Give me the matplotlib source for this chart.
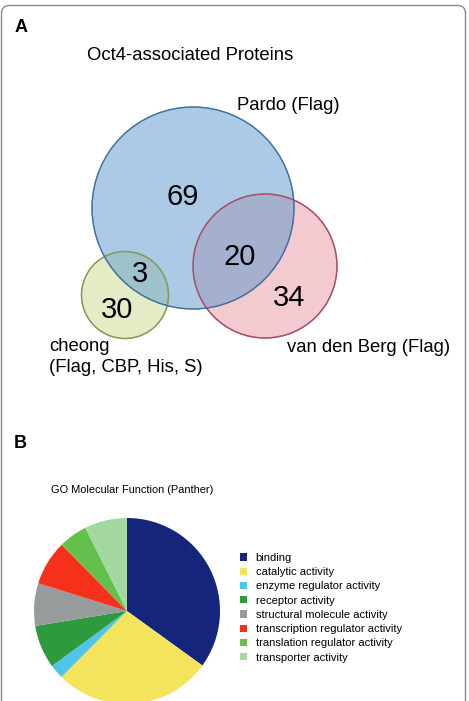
import numpy as np
import matplotlib
matplotlib.use("Agg")
import matplotlib.pyplot as plt
from matplotlib.patches import Circle, FancyBboxPatch

plt.rcParams['font.family'] = ['Liberation Sans', 'DejaVu Sans']

# Venn data (panel A)
venn_sets = ["Pardo (Flag)", "van den Berg (Flag)", "cheong\n(Flag, CBP, His, S)"]
pardo_only = 69
pardo_vdb = 20
pardo_cheong = 3
cheong_only = 30
vdb_only = 34

# Pie data (panel B), percent of annotations
go_labels = ["binding", "catalytic activity", "enzyme regulator activity",
             "receptor activity", "structural molecule activity",
             "transcription regulator activity", "translation regulator activity",
             "transporter activity"]
go_values = [35.0, 27.5, 2.5, 7.5, 7.4, 7.8, 5.0, 7.4]
go_colors = ["#15257c", "#f4e35c", "#4ec6ec", "#2e9a3e", "#969b9b",
             "#f5311c", "#63c04c", "#a3d9a0"]

W, H = 469, 701
fig = plt.figure(figsize=(W / 100, H / 100), dpi=100)

# page frame + pixel-space axes
ax = fig.add_axes([0, 0, 1, 1])
ax.set_xlim(0, W)
ax.set_ylim(H, 0)
ax.axis('off')
frame = FancyBboxPatch((1.5, 5.5), 464, 720, boxstyle="round,pad=0,rounding_size=8",
                       fc='white', ec='#8a8a8a', lw=1.0, zorder=0)
ax.add_patch(frame)

ax.text(15, 27, "A", fontsize=13, fontweight='bold', va='center', ha='left')
ax.text(87, 55, "Oct4-associated Proteins", fontsize=13.3, va='center', ha='left')

# circles (layout in pixels)
red = Circle((265, 266), 72, fc='#e8a0aa', ec='#a0404e', lw=1.0, alpha=0.55, zorder=2)
blue = Circle((193, 208), 101, fc='#5a97cf', ec='#2c5a8c', lw=1.0, alpha=0.5, zorder=3)
green = Circle((125, 295), 43.5, fc='#cfdd96', ec='#7d9046', lw=1.0, alpha=0.55, zorder=1)
green_top = Circle((125, 295), 43.5, fc='none', ec='#8a9a55', lw=1.0, zorder=4)
red_top = Circle((265, 266), 72, fc='none', ec='#a85060', lw=1.0, zorder=4)
blue_top = Circle((193, 208), 101, fc='none', ec='#3f6f9e', lw=0.9, zorder=4)
for c in (red, blue, green, green_top, red_top, blue_top):
    ax.add_patch(c)

num_kw = dict(fontsize=21, ha='center', va='center', zorder=5)
ax.text(183, 197, str(pardo_only), **num_kw)
ax.text(240, 257, str(pardo_vdb), **num_kw)
ax.text(140, 274, str(pardo_cheong), **num_kw)
ax.text(117, 310, str(cheong_only), **num_kw)
ax.text(289, 298, str(vdb_only), **num_kw)

ax.text(237, 106, venn_sets[0], fontsize=13.3, ha='left', va='center')
ax.text(287, 348, venn_sets[1], fontsize=13.3, ha='left', va='center')
ax.text(49, 357, venn_sets[2], fontsize=13.3, ha='left', va='center', linespacing=1.32)

ax.text(14, 443, "B", fontsize=13, fontweight='bold', va='center', ha='left')
ax.text(51, 490, "GO Molecular Function (Panther)", fontsize=7.9, va='center', ha='left')

# pie axes
cx, cy, r = 127, 611, 93
pax = fig.add_axes([(cx - r) / W, (H - cy - r) / H, 2 * r / W, 2 * r / H])
wedges, _ = pax.pie(go_values, colors=go_colors, startangle=90, counterclock=False,
                    radius=1, wedgeprops=dict(lw=0))
pax.set_xlim(-1, 1)
pax.set_ylim(-1, 1)
pax.axis('off')

leg = fig.legend(wedges, go_labels, loc='upper left',
                 bbox_to_anchor=(230 / W, 1 - 543 / H), frameon=False,
                 fontsize=8.0, handlelength=0.65, handleheight=0.65,
                 handletextpad=0.75, labelspacing=0.38)

fig.savefig("out.png", dpi=100)
